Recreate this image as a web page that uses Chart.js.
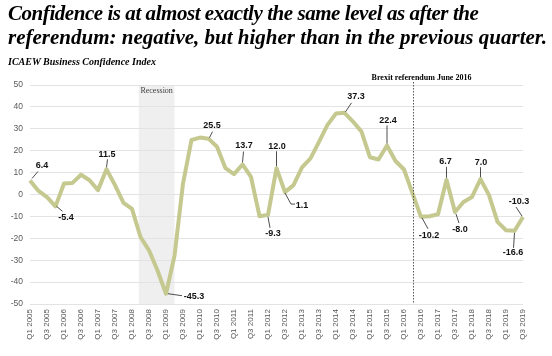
<!DOCTYPE html>
<html>
<head>
<meta charset="utf-8">
<script src="https://cdn.jsdelivr.net/npm/chart.js@4"></script>
<style>
  html, body { margin: 0; padding: 0; background: #fff; }
  #wrap { position: relative; width: 552px; height: 356px; overflow: hidden; }
  #c { position: absolute; left: 0; top: 0; }
  .t { position: absolute; left: 8px; font-family: "Liberation Serif", "Times New Roman", serif; font-weight: bold; font-style: italic; color: #000; white-space: nowrap; }
  #t1 { top: 1px; font-size: 21px; line-height: 24px; letter-spacing: -0.45px; }
  #t2 { top: 25px; font-size: 21px; line-height: 24px; }
  #st { top: 55px; font-size: 10px; line-height: 14px; }
</style>
</head>
<body>
<div id="wrap">
  <canvas id="c" width="552" height="356"></canvas>
  <div class="t" id="t1">Confidence is at almost exactly the same level as after the</div>
  <div class="t" id="t2">referendum: negative, but higher than in the previous quarter.</div>
  <div class="t" id="st">ICAEW Business Confidence Index</div>
</div>
<script>
// ---- Data ----
const years = [2005,2006,2007,2008,2009,2010,2011,2012,2013,2014,2015,2016,2017,2018,2019];
const categories = [];
years.forEach(y => { for (let q = 1; q <= 4; q++) { if (y === 2019 && q > 3) break; categories.push('Q' + q + ' ' + y); } });

const confidence = [
  6.4, 1.6, -1.2, -5.4,      // 2005
  5.0, 5.3, 9.0, 6.5,        // 2006
  2.0, 11.5, 4.3, -3.8,      // 2007
  -6.6, -19.4, -25.5, -34.7, // 2008
  -45.3, -28.0, 5.0, 24.9,   // 2009
  26.0, 25.5, 21.8, 12.0,    // 2010
  9.3, 13.7, 8.0, -9.9,      // 2011
  -9.3, 12.0, 1.1, 4.3,      // 2012
  12.4, 16.5, 24.0, 31.8,    // 2013
  37.0, 37.3, 33.3, 28.7,    // 2014
  17.0, 16.0, 22.4, 15.3,    // 2015
  11.4, 0.5, -10.2, -9.9,    // 2016
  -9.0, 6.7, -8.0, -3.4,     // 2017
  -1.1, 7.0, -0.3, -12.5,    // 2018
  -16.3, -16.6, -10.3        // 2019
];

const yTicks = [-50,-40,-30,-20,-10,0,10,20,30,40,50];

// labelled points: index, label offset, leader path (offsets from the point)
const callouts = [
  { i: 0,  lx: 12,  ly: -14.5, path: [[2,-2],[8,-9]] },
  { i: 3,  lx: 10.5,ly: 11,    path: [[1,0],[7,5]] },
  { i: 9,  lx: 0.5, ly: -15,   path: [[0,-2],[1,-10]] },
  { i: 16, lx: 28,  ly: 2.5,   path: [[2,0],[16,2]] },
  { i: 21, lx: 3.5, ly: -12.7, path: [[1,-1],[4,-7]] },
  { i: 25, lx: 1.5, ly: -18.5, path: [[0,-2],[1,-13]] },
  { i: 28, lx: 5,   ly: 19,    path: [[0,2],[2,13]] },
  { i: 29, lx: 0.5, ly: -22,   path: [[0,-2],[0,-17]] },
  { i: 30, lx: 17,  ly: 13,    path: [[0,1],[6,12],[10,12]] },
  { i: 37, lx: 11.5,ly: -15.8, path: [[1,-1],[7,-10]] },
  { i: 42, lx: 1,   ly: -25.4, path: [[0,-2],[0,-20]] },
  { i: 46, lx: 8,   ly: 19,    path: [[1,1],[7,12]] },
  { i: 49, lx: -1,  ly: -18,   path: [[0,-2],[0,-13]] },
  { i: 50, lx: 5,   ly: 17,    path: [[1,2],[4,11]] },
  { i: 53, lx: 0.5, ly: -17,   path: [[0,-2],[0,-12]] },
  { i: 57, lx: -1.5,ly: 22,    path: [[0,2],[-1,17]] },
  { i: 58, lx: -4,  ly: -16,   path: [[-1,-1],[-7,-10]] }
];

const recession = { from: 12.8, to: 17.0, label: 'Recession' };
const brexit = { at: 45, label: 'Brexit referendum June 2016' };

// ---- Plugins ----
const bandPlugin = {
  id: 'band',
  beforeDraw(chart) {
    const { ctx, chartArea: a, scales: { x } } = chart;
    const x1 = x.getPixelForValue(recession.from), x2 = x.getPixelForValue(recession.to);
    ctx.save();
    ctx.fillStyle = '#efefef';
    ctx.fillRect(x1, a.top, x2 - x1, a.bottom - a.top);
    ctx.restore();
  },
  afterDraw(chart) {
    const { ctx, chartArea: a, scales: { x } } = chart;
    const x1 = x.getPixelForValue(recession.from), x2 = x.getPixelForValue(recession.to);
    ctx.save();
    ctx.fillStyle = '#404040';
    ctx.font = '8px "Liberation Serif", serif';
    ctx.textAlign = 'center';
    ctx.textBaseline = 'middle';
    ctx.fillText(recession.label, (x1 + x2) / 2, a.top + 6);
    // brexit
    const bx = Math.round(x.getPixelForValue(brexit.at)) + 0.5;
    ctx.strokeStyle = '#555';
    ctx.lineWidth = 1;
    ctx.setLineDash([1.5, 1.5]);
    ctx.beginPath();
    ctx.moveTo(bx, a.top - 3);
    ctx.lineTo(bx, a.bottom);
    ctx.stroke();
    ctx.setLineDash([]);
    ctx.fillStyle = '#000';
    ctx.font = 'bold 8px "Liberation Serif", serif';
    ctx.fillText(brexit.label, bx + 8, a.top - 7);
    ctx.restore();
  }
};

const calloutPlugin = {
  id: 'callouts',
  afterDatasetsDraw(chart) {
    const { ctx, scales: { x, y } } = chart;
    ctx.save();
    ctx.strokeStyle = '#222';
    ctx.lineWidth = 0.8;
    ctx.fillStyle = '#111';
    ctx.font = 'bold 9px "Liberation Sans", Arial, sans-serif';
    ctx.textAlign = 'center';
    ctx.textBaseline = 'middle';
    callouts.forEach(c => {
      const px = x.getPixelForValue(c.i), py = y.getPixelForValue(confidence[c.i]);
      ctx.beginPath();
      c.path.forEach((p, k) => { if (k === 0) ctx.moveTo(px + p[0], py + p[1]); else ctx.lineTo(px + p[0], py + p[1]); });
      ctx.stroke();
      ctx.fillText(confidence[c.i].toFixed(1), px + c.lx, py + c.ly);
    });
    ctx.restore();
  }
};

new Chart(document.getElementById('c'), {
  type: 'line',
  data: {
    labels: categories,
    datasets: [{
      data: confidence,
      borderColor: '#c5c98f',
      borderWidth: 4,
      pointRadius: 0,
      tension: 0,
      fill: false,
      borderJoinStyle: 'round'
    }]
  },
  options: {
    responsive: false,
    animation: false,
    layout: { padding: { left: 0, right: 29, top: 85, bottom: 0 } },
    plugins: { legend: { display: false }, tooltip: { enabled: false } },
    scales: {
      x: {
        offset: false,
        grid: { display: false, drawTicks: false },
        border: { display: false },
        afterFit(s) { s.height = 52; },
        ticks: {
          autoSkip: false,
          maxRotation: 90, minRotation: 90,
          padding: 5,
          color: '#595959',
          font: { size: 8, family: '"Liberation Sans", Arial, sans-serif' },
          callback(v, i) { return i % 2 === 0 ? categories[i] : ''; }
        }
      },
      y: {
        min: -50, max: 50,
        afterFit(s) { s.width = 30; },
        afterBuildTicks(s) { s.ticks = yTicks.map(v => ({ value: v })); },
        grid: { color: '#e3e3e3', lineWidth: 1, drawTicks: false },
        border: { display: false },
        ticks: {
          padding: 7,
          color: '#595959',
          font: { size: 8.5, family: '"Liberation Sans", Arial, sans-serif' }
        }
      }
    }
  },
  plugins: [bandPlugin, calloutPlugin]
});
</script>
</body>
</html>
